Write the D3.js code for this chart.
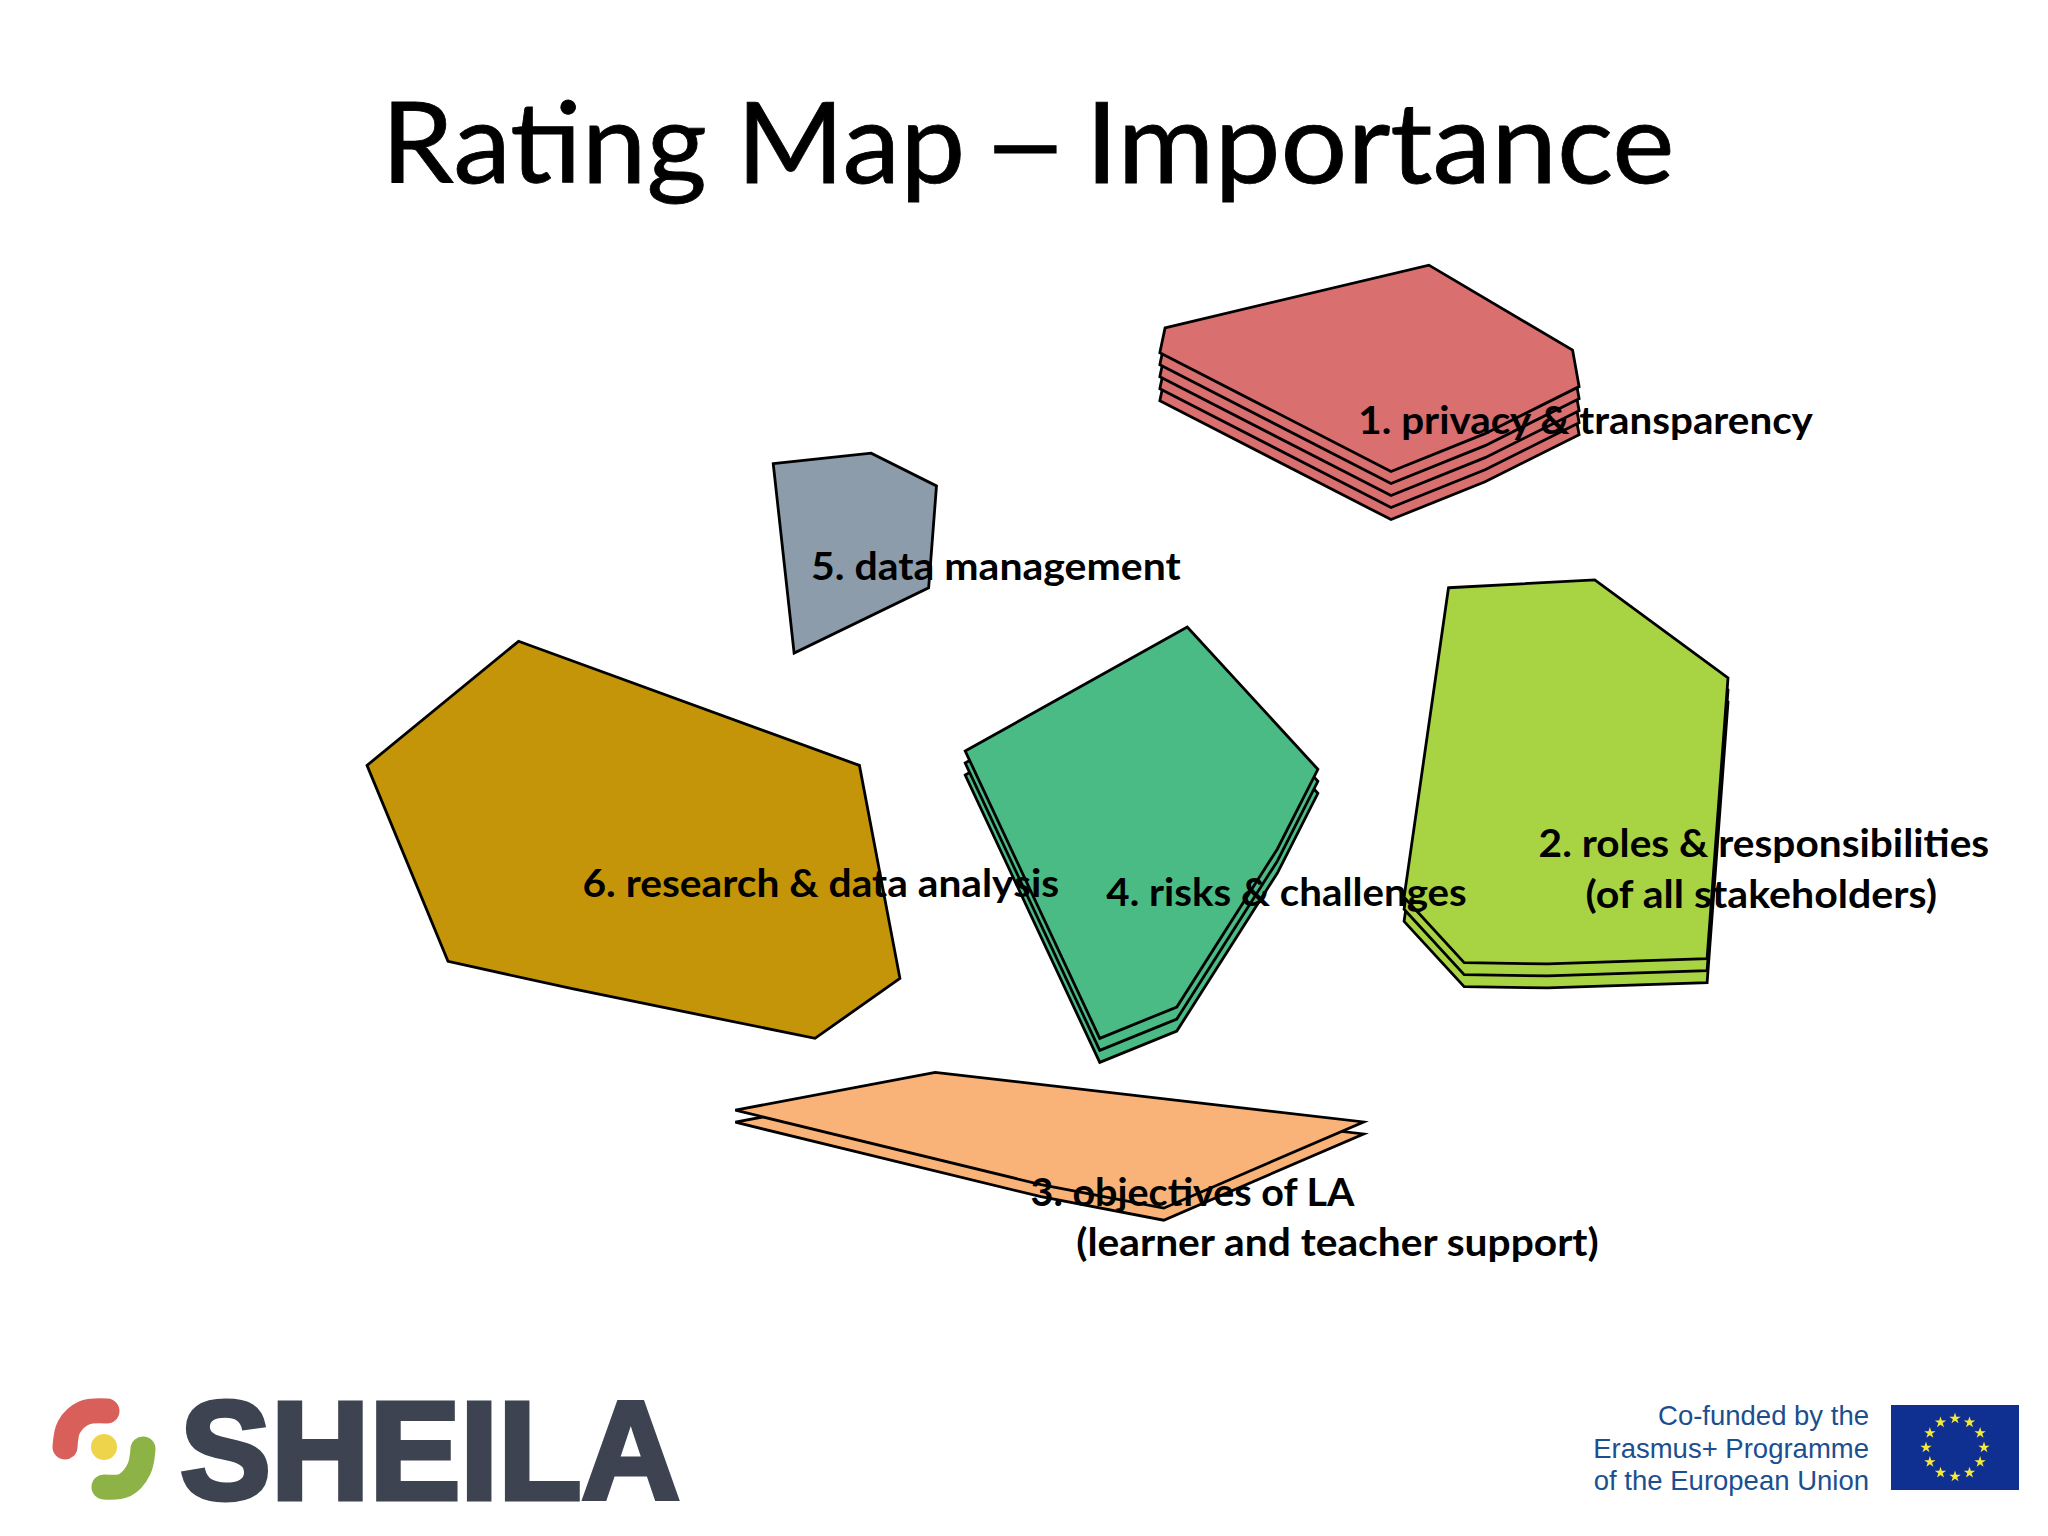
<!DOCTYPE html>
<html>
<head>
<meta charset="utf-8">
<script src="https://cdn.jsdelivr.net/npm/d3@7"></script>
<style>
  html, body { margin: 0; padding: 0; background: #fff; }
  svg { display: block; }
</style>
</head>
<body>
<svg id="chart"></svg>
<script>
// cluster outlines, x/y in map units
const clusterPrivacy = [[892, 251], [1094, 203], [1204, 268], [1209, 296], [1137, 332], [1065, 361], [888, 270]]
const clusterRoles = [[1109, 450], [1221, 444], [1323, 519], [1307, 734], [1185, 738], [1121, 737], [1075, 687]]
const clusterObjectives = [[563, 850], [716, 821], [1044, 859], [891, 925], [797, 907]]
const clusterRisks = [[739, 575], [909, 480], [1009, 589], [978, 650], [901, 771], [842, 795]]
const clusterData = [[592, 355], [667, 347], [717, 372], [711, 450], [608, 500]]
const clusterResearch = [[397, 491], [658, 586], [689, 749], [624, 795], [438, 757], [343, 736], [281, 586]]

// how many rating layers each cluster has
const clusterLayers = [5, 3, 2, 3, 1, 1]
const clusterColors = ["#D96F6F", "#A8D444", "#F9B277", "#4ABB85", "#8C9CAA", "#C49509"]
const clusterOutlines = [clusterPrivacy, clusterRoles, clusterObjectives, clusterRisks, clusterData, clusterResearch]

const clusterLabels = [
    ["1. privacy & transparency"],
    ["2. roles & responsibilities", "(of all stakeholders)"],
    ["3. objectives of LA", "(learner and teacher support)"],
    ["4. risks & challenges"],
    ["5. data management"],
    ["6. research & data analysis"]
]

const titleParts = ["Rating Map", "–", "Importance"]
const euLines = ["Co-funded by the", "Erasmus+ Programme", "of the European Union"]

const width = 2048
const height = 1536
const layerStep = 9.2

const svg = d3.select("#chart")
    .attr("width", width)
    .attr("height", height)
    .style("background", "#FFFFFF")

const x = d3.scaleLinear().domain([0, 1568]).range([0, width])
const y = d3.scaleLinear().domain([0, 1176]).range([0, height])

const outline = d3.line()
    .x(d => x(d[0]))
    .y(d => y(d[1]))
    .curve(d3.curveLinearClosed)

// title pieces: start, end
const titleSpots = [[292, 739], [751, 819], [831, 1282]]

svg.append("g")
    .selectAll("text")
    .data(titleParts)
    .enter()
    .append("text")
    .attr("x", (d, i) => x(titleSpots[i][0]))
    .attr("y", y(140))
    .attr("textLength", (d, i) => x(titleSpots[i][1]) - x(titleSpots[i][0]))
    .attr("lengthAdjust", "spacingAndGlyphs")
    .style("font-family", "Lato")
    .style("font-size", "112px")
    .style("fill", "#000")
    .style("stroke", "#000")
    .style("stroke-width", 0.8)
    .text(d => d)

// stacks, lowest layer first so the top one stays whole
clusterOutlines.forEach((points, i) => {
    const layers = d3.range(clusterLayers[i] - 1, -1, -1)
    svg.append("g")
        .selectAll("path")
        .data(layers)
        .enter()
        .append("path")
        .attr("d", l => outline(points.map(p => [p[0], p[1] + l * layerStep])))
        .attr("fill", clusterColors[i])
        .attr("stroke", "#000")
        .attr("stroke-width", 2.8)
        .attr("stroke-linejoin", "miter")
})

// label placement: start, end, baseline per line
const labelSpots = [
    [[1040, 1388, 332]],
    [[1178, 1523, 656], [1214, 1483, 695]],
    [[789, 1037, 923], [824, 1224, 962]],
    [[847, 1123, 694]],
    [[621, 904, 444]],
    [[446, 811, 687]]
]

clusterLabels.forEach((lines, i) => {
    lines.forEach((line, j) => {
        const spot = labelSpots[i][j]
        svg.append("text")
            .attr("x", x(spot[0]))
            .attr("y", y(spot[2]))
            .attr("textLength", x(spot[1]) - x(spot[0]))
            .attr("lengthAdjust", "spacingAndGlyphs")
            .style("font-family", "Lato")
            .style("font-weight", 700)
            .style("font-size", "39px")
            .style("fill", "#000")
            .text(line)
    })
})

// SHEILA logo
const logo = svg.append("g")
const swoosh = d3.line().curve(d3.curveCatmullRom)
logo.append("path")
    .attr("d", swoosh([[65, 1447], [69, 1427], [84, 1413], [107, 1411]]))
    .attr("fill", "none")
    .attr("stroke", "#D9605A")
    .attr("stroke-width", 25)
    .attr("stroke-linecap", "round")
logo.append("path")
    .attr("d", swoosh([[143, 1449], [139, 1469], [125, 1485], [104, 1487]]))
    .attr("fill", "none")
    .attr("stroke", "#8DB346")
    .attr("stroke-width", 25)
    .attr("stroke-linecap", "round")
logo.append("circle")
    .attr("cx", 104)
    .attr("cy", 1447)
    .attr("r", 13)
    .attr("fill", "#EDD44A")
logo.append("text")
    .attr("x", 180)
    .attr("y", 1499)
    .attr("textLength", 500)
    .attr("lengthAdjust", "spacingAndGlyphs")
    .style("font-family", "Liberation Sans")
    .style("font-weight", 700)
    .style("font-size", "140px")
    .style("fill", "#3D4350")
    .style("stroke", "#3D4350")
    .style("stroke-width", 5)
    .text("SHEILA")

// co-funding block
svg.append("g")
    .selectAll("text")
    .data(euLines)
    .enter()
    .append("text")
    .attr("x", 1869)
    .attr("y", (d, i) => 1425 + i * 32.6)
    .attr("text-anchor", "end")
    .style("font-family", "Liberation Sans")
    .style("font-size", "27.5px")
    .style("fill", "#1B4F8F")
    .text(d => d)

svg.append("rect")
    .attr("x", 1891)
    .attr("y", 1405)
    .attr("width", 128)
    .attr("height", 85)
    .attr("fill", "#0F2F91")

svg.append("g")
    .selectAll("path")
    .data(d3.range(12))
    .enter()
    .append("path")
    .attr("d", d3.symbol().type(d3.symbolStar).size(40))
    .attr("transform", d => {
        const a = d * Math.PI / 6
        return `translate(${1955 + 29 * Math.sin(a)},${1447.5 - 29 * Math.cos(a)})`
    })
    .attr("fill", "#F5E93B")
</script>
</body>
</html>
